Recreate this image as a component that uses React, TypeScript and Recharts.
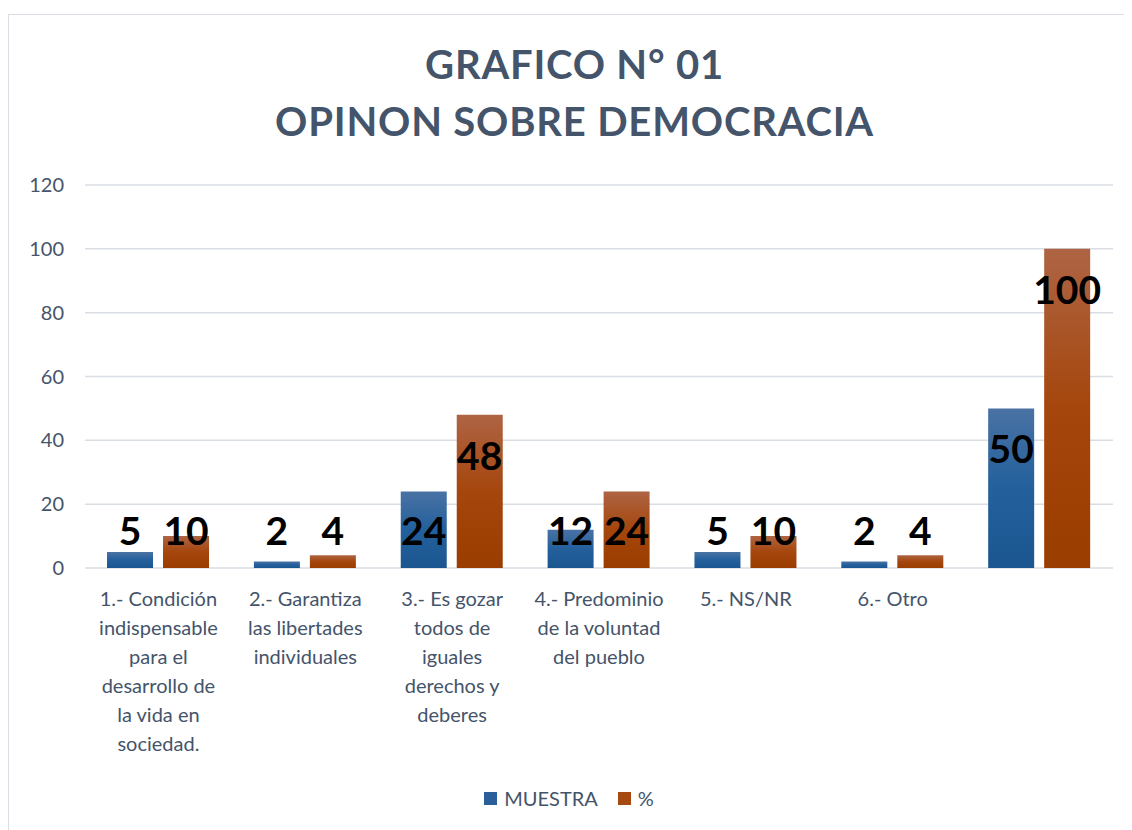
import { BarChart, Bar, XAxis, YAxis, CartesianGrid, Legend, LabelList } from "recharts";

const categories = [
  "1.- Condición|indispensable|para el|desarrollo de|la vida en|sociedad.",
  "2.- Garantiza|las libertades|individuales",
  "3.- Es gozar|todos de|iguales|derechos y|deberes",
  "4.- Predominio|de la voluntad|del pueblo",
  "5.- NS/NR",
  "6.- Otro",
  "",
];
const muestra = [5, 2, 24, 12, 5, 2, 50];
const porcentaje = [10, 4, 48, 24, 10, 4, 100];
const yTicks = [0, 20, 40, 60, 80, 100, 120];

const data = categories.map((c, i) => ({ name: c, muestra: muestra[i], pct: porcentaje[i] }));

const FONT = "Lato, 'Noto Sans', sans-serif";
const SLATE = "#44546A";

const CategoryTick = (props: any) => {
  const { x, y, payload } = props;
  const lines = String(payload.value).split("|");
  return (
    <text x={x} y={y} textAnchor="middle" fill={SLATE} fontSize={20} fontFamily={FONT}>
      {lines.map((l, i) => (
        <tspan key={i} x={x} dy={i === 0 ? 38 : 29}>
          {l}
        </tspan>
      ))}
    </text>
  );
};

const ValueLabel = (props: any) => {
  const { x, y, width, height, value } = props;
  const base = y + height;
  const cy = Math.min(y + 40, base - 38);
  return (
    <text
      x={x + width / 2}
      y={cy}
      textAnchor="middle"
      dominantBaseline="central"
      fill="#000"
      fontSize={39}
      fontWeight={700}
      fontFamily={FONT}
    >
      {value}
    </text>
  );
};

const LegendBox = () => (
  <div style={{ display: "flex", justifyContent: "center", alignItems: "center", height: 32, fontFamily: FONT, fontSize: 20, color: SLATE }}>
    <span style={{ width: 13, height: 13, background: "#2A5F9A", marginRight: 7 }} />
    <span style={{ marginRight: 20 }}>MUESTRA</span>
    <span style={{ width: 13, height: 13, background: "#A64A12", marginRight: 7 }} />
    <span>%</span>
  </div>
);

export default function App() {
  return (
    <div
      style={{
        position: "relative",
        marginTop: 6,
        width: 1131,
        height: 815,
        border: "1px solid #D9DEE5",
        borderRight: "none",
        borderBottom: "none",
        background: "#fff",
      }}
    >
      <div
        style={{
          position: "absolute",
          top: 21,
          left: 0,
          width: 1131,
          textAlign: "center",
          fontFamily: FONT,
          fontWeight: 700,
          fontSize: 40,
          letterSpacing: 0.8,
          lineHeight: "57px",
          color: SLATE,
        }}
      >
        <div>GRAFICO N° 01</div>
        <div>OPINON SOBRE DEMOCRACIA</div>
      </div>
      <BarChart
        width={1131}
        height={815}
        data={data}
        margin={{ top: 170, right: 27, left: 16, bottom: 16 }}
        barCategoryGap="15%"
        barGap={10}
      >
        <defs>
          <linearGradient id="gBlue" x1="0" y1="0" x2="0" y2="1">
            <stop offset="0%" stopColor="#4A72A4" />
            <stop offset="50%" stopColor="#23609C" />
            <stop offset="100%" stopColor="#1B5690" />
          </linearGradient>
          <linearGradient id="gOrange" x1="0" y1="0" x2="0" y2="1">
            <stop offset="0%" stopColor="#AE6444" />
            <stop offset="50%" stopColor="#A5460C" />
            <stop offset="100%" stopColor="#9A3D00" />
          </linearGradient>
        </defs>
        <CartesianGrid vertical={false} stroke="#D9DEE5" strokeWidth={1.5} />
        <XAxis
          dataKey="name"
          axisLine={false}
          tickLine={false}
          tickSize={0}
          tickMargin={0}
          interval={0}
          height={214}
          tick={<CategoryTick />}
        />
        <YAxis
          domain={[0, 120]}
          ticks={yTicks}
          axisLine={false}
          tickLine={false}
          width={60}
          tickMargin={15}
          tick={{ fill: SLATE, fontSize: 20, fontFamily: FONT }}
        />
        <Legend content={<LegendBox />} verticalAlign="bottom" height={32} />
        <Bar dataKey="muestra" name="MUESTRA" fill="url(#gBlue)" isAnimationActive={false}>
          <LabelList dataKey="muestra" content={<ValueLabel />} />
        </Bar>
        <Bar dataKey="pct" name="%" fill="url(#gOrange)" isAnimationActive={false}>
          <LabelList dataKey="pct" content={<ValueLabel />} />
        </Bar>
      </BarChart>
    </div>
  );
}
